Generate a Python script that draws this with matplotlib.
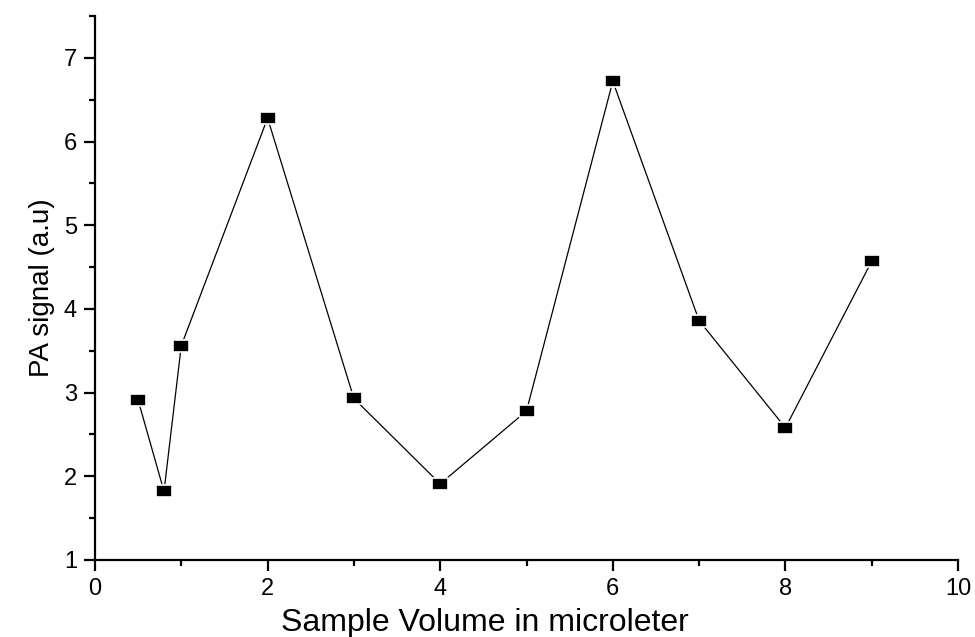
import numpy as np
import matplotlib
matplotlib.use("Agg")
import matplotlib.pyplot as plt
from matplotlib.ticker import MultipleLocator

plt.rcParams['font.family'] = ['Liberation Sans', 'DejaVu Sans']

# sample volume (microliter) vs PA signal
volume = [0.5, 0.8, 1, 2, 3, 4, 5, 6, 7, 8, 9]
signal = [2.91, 1.82, 3.56, 6.28, 2.93, 1.91, 2.78, 6.72, 3.86, 2.58, 4.57]

fig = plt.figure(figsize=(9.75, 6.37), dpi=100)
ax = fig.add_axes([0.0974, 0.1209, 0.8852, 0.854])

# slightly wide square marker like the original
rect = [(-1, -0.75), (1, -0.75), (1, 0.75), (-1, 0.75), (-1, -0.75)]
ax.plot(volume, signal, color='black', lw=0.9, marker=rect, ms=11,
        mfc='black', mec='white', mew=1.2)

ax.set_xlim(0, 10)
ax.set_ylim(1, 7.5)
ax.xaxis.set_major_locator(MultipleLocator(2))
ax.xaxis.set_minor_locator(MultipleLocator(1))
ax.yaxis.set_major_locator(MultipleLocator(1))
ax.yaxis.set_minor_locator(MultipleLocator(0.5))

for s in ['top', 'right']:
    ax.spines[s].set_visible(False)
for s in ['left', 'bottom']:
    ax.spines[s].set_linewidth(1.6)

ax.tick_params(which='major', direction='out', length=8, width=1.6, labelsize=17, pad=5)
ax.tick_params(which='minor', direction='out', length=4, width=1.6)

ax.set_xlabel('Sample Volume in microleter', fontsize=23)
ax.set_ylabel('PA signal (a.u)', fontsize=20, labelpad=6)
ax.xaxis.set_label_coords(0.452, -0.088)

fig.savefig('out.png', dpi=100)
